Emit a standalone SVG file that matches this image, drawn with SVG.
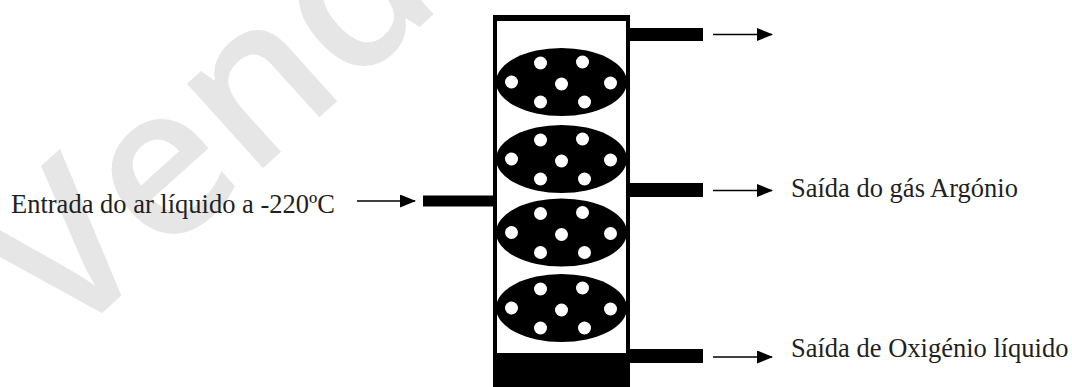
<svg xmlns="http://www.w3.org/2000/svg" width="1072" height="387" viewBox="0 0 1072 387">
  <style>
    .label { font-family: "Liberation Serif", "Times New Roman", serif; font-size: 26.5px; fill: #231f20; }
    .mark { font-family: "Open Sans", "Liberation Sans", sans-serif; font-size: 210px; font-weight: 600; fill: #e6e6e6; }
    .pipe { fill: #000; }
    .tray { fill: #000; }
    .hole { fill: #fff; }
    .flow { stroke: #000; stroke-width: 1.6; fill: none; marker-end: url(#head); }
  </style>
  <defs>
    <marker id="head" markerWidth="16" markerHeight="13" refX="15" refY="6.5" orient="auto" markerUnits="userSpaceOnUse">
      <path d="M0,0 L16,6.5 L0,13 Z" fill="#000"/>
    </marker>
    <g id="trayShape">
      <ellipse class="tray" cx="0" cy="0" rx="65.5" ry="34"/>
      <circle class="hole" cx="-21" cy="-19" r="6.5"/>
      <circle class="hole" cx="21" cy="-20" r="6.5"/>
      <circle class="hole" cx="-50" cy="0" r="6.5"/>
      <circle class="hole" cx="0" cy="2" r="6.5"/>
      <circle class="hole" cx="49" cy="1" r="6.5"/>
      <circle class="hole" cx="-21" cy="20" r="6.5"/>
      <circle class="hole" cx="23" cy="20" r="6.5"/>
    </g>
  </defs>

  <rect width="1072" height="387" fill="#fff"/>

  <!-- background stamp -->
  <text class="mark" transform="translate(63,348) rotate(-42)">Venda</text>

  <!-- distillation column -->
  <g id="column">
    <rect x="495" y="17" width="133" height="380" fill="none" stroke="#000" stroke-width="4"/>
    <rect x="493" y="15" width="137" height="6" fill="#000"/>
    <rect x="493" y="353" width="137" height="40" fill="#000"/>
  </g>

  <g id="tray1"><use href="#trayShape" x="561.5" y="82"/></g>
  <g id="tray2"><use href="#trayShape" x="561.5" y="159"/></g>
  <g id="tray3"><use href="#trayShape" x="561.5" y="232.5"/></g>
  <g id="tray4"><use href="#trayShape" x="561.5" y="308"/></g>

  <!-- nozzles -->
  <g id="inlet-pipe"><rect class="pipe" x="423" y="195.5" width="72" height="11"/></g>
  <g id="top-outlet"><rect class="pipe" x="628" y="28" width="75" height="13"/></g>
  <g id="argon-outlet"><rect class="pipe" x="628" y="183" width="75" height="14"/></g>
  <g id="oxygen-outlet"><rect class="pipe" x="628" y="349" width="75" height="14"/></g>

  <!-- flow arrows -->
  <g id="connectors">
    <line class="flow" x1="357" y1="201" x2="415" y2="201"/>
    <line class="flow" x1="713" y1="34.5" x2="772" y2="34.5"/>
    <line class="flow" x1="713" y1="190.5" x2="772" y2="190.5"/>
    <line class="flow" x1="713" y1="357" x2="772" y2="357"/>
  </g>

  <!-- labels -->
  <g id="inlet-label"><text class="label" x="11" y="212.5">Entrada do ar líquido a -220ºC</text></g>
  <g id="argon-label"><text class="label" x="791" y="196.5">Saída do gás Argónio</text></g>
  <g id="oxygen-label"><text class="label" x="791" y="356.5">Saída de Oxigénio líquido</text></g>
</svg>
